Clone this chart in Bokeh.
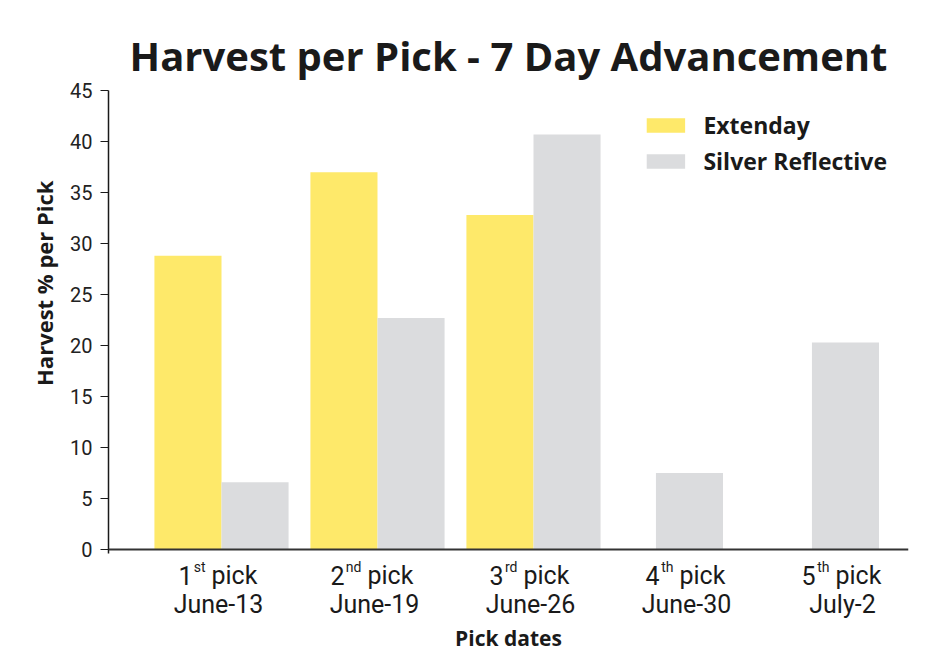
from bokeh.plotting import figure
from bokeh.models import Range1d, FixedTicker, Span, Title, Legend, LegendItem
from bokeh.embed import file_html
from bokeh.resources import INLINE
from bokeh.core.properties import value
import numpy as np

numbers = ["1", "2", "3", "4", "5"]
suffixes = ["st", "nd", "rd", "th", "th"]
dates = ["June-13", "June-19", "June-26", "June-30", "July-2"]
extenday = [28.8, 37.0, 32.8, 0, 0]
silver = [6.6, 22.7, 40.7, 7.5, 20.3]
y_ticks = [0, 5, 10, 15, 20, 25, 30, 35, 40, 45]

YELLOW = "#FEE96A"
GREY = "#DBDCDE"
INK = "#1a1a1a"
BOLD = "Open Sans"
bar_w = 0.43

# rough glyph widths (px) of the 14px superscript letters
sup_px = {"s": 7, "t": 5, "n": 8, "d": 8, "r": 5, "h": 8}

pos = np.arange(1, len(dates) + 1)
ext = np.array(extenday)
sil = np.array(silver)
# a lone bar sits in the middle of its group
ext_x = np.where(sil > 0, pos - bar_w / 2, pos)
sil_x = np.where(ext > 0, pos + bar_w / 2, pos)
sup_w = np.array([sum(sup_px[c] for c in s) for s in suffixes])

p = figure(width=940, height=655, output_backend="svg", toolbar_location=None,
	x_range=Range1d(0.2756, 5.404), y_range=Range1d(-10.39, 45.2),
	min_border_left=108, min_border_right=32, min_border_top=88, min_border_bottom=0,
	title="Harvest per Pick - 7 Day Advancement")
p.outline_line_color = None
p.grid.visible = False
p.xaxis.visible = False

p.title.text_font = BOLD
p.title.text_font_style = "bold"
p.title.text_font_size = "40px"
p.title.text_color = INK
p.title.align = "center"
p.title.standoff = 12

yax = p.yaxis[0]
yax.ticker = FixedTicker(ticks=y_ticks)
yax.bounds = (-0.4, max(y_ticks))
yax.minor_tick_line_color = None
yax.major_tick_in = 0
yax.major_tick_out = 8
yax.axis_line_width = 1.5
yax.axis_line_color = INK
yax.major_tick_line_color = INK
yax.major_label_text_font = "Roboto"
yax.major_label_text_font_size = "20px"
yax.major_label_text_color = "#222222"
yax.major_label_standoff = 8

p.add_layout(Title(text="Harvest % per Pick", align="right", offset=92, standoff=17,
	text_font=BOLD, text_font_style="bold", text_font_size="22px", text_color=INK), "left")

r1 = p.vbar(x=ext_x, top=extenday, width=bar_w, fill_color=YELLOW, line_color=None)
r2 = p.vbar(x=sil_x, top=silver, width=bar_w, fill_color=GREY, line_color=None)

p.add_layout(Span(location=0, dimension="width", line_color="#333333", line_width=2))

# category labels: "1st pick" with a raised suffix, date underneath
p.text(x=pos, y=0, text=["pick"] * len(pos), x_offset=-10, y_offset=26, text_align="left",
	text_baseline="alphabetic", text_font=value("Roboto"), text_font_size="25px", text_color=INK)
p.text(x=pos, y=0, text=suffixes, x_offset=-16, y_offset=17, text_align="right",
	text_baseline="alphabetic", text_font=value("Roboto"), text_font_size="14px", text_color=INK)
p.text(x=pos, y=0, text=numbers, x_offset=-17 - sup_w, y_offset=26, text_align="right",
	text_baseline="alphabetic", text_font=value("Roboto"), text_font_size="25px", text_color=INK)
p.text(x=pos, y=0, text=dates, x_offset=-3, y_offset=55, text_align="center",
	text_baseline="alphabetic", text_font=value("Roboto"), text_font_size="25px", text_color=INK)
p.text(x=[(p.x_range.start + p.x_range.end) / 2], y=[0], text=["Pick dates"], y_offset=88,
	text_align="center", text_baseline="alphabetic", text_font=value(BOLD),
	text_font_style="bold", text_font_size="21px", text_color=INK)

legend = Legend(items=[LegendItem(label="Extenday", renderers=[r1]),
	LegendItem(label="Silver Reflective", renderers=[r2])],
	location="top_right", margin=21, padding=0, spacing=4,
	glyph_width=48, glyph_height=18, label_standoff=14,
	label_text_font=BOLD, label_text_font_style="bold", label_text_font_size="23px",
	label_text_color=INK, border_line_color=None, background_fill_alpha=0)
p.add_layout(legend)

open("out.html", "w").write(file_html(p, INLINE))
